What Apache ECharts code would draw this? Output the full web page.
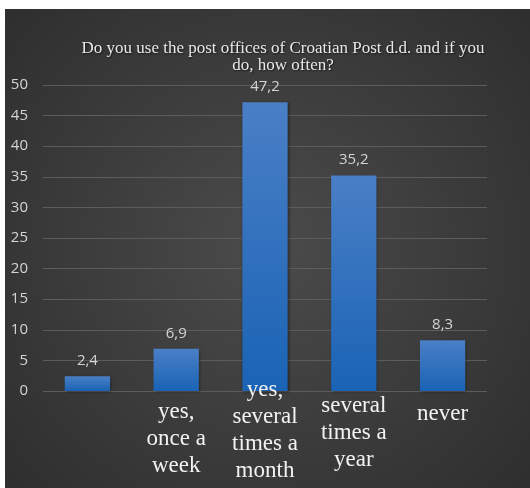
<!DOCTYPE html>
<html>
<head>
<meta charset="utf-8">
<script src="https://cdn.jsdelivr.net/npm/echarts@6/dist/echarts.min.js"></script>
<style>
  html, body { margin: 0; padding: 0; background: #ffffff; }
  #chart { position: absolute; left: 5px; top: 9px; width: 525px; height: 479px; }
</style>
</head>
<body>
<div id="chart"></div>
<script>
// Survey answers and their shares (%)
const categories = ['', 'yes,\nonce a\nweek', 'yes,\nseveral\ntimes a\nmonth', 'several\ntimes a\nyear', 'never'];
const shares = [2.4, 6.9, 47.2, 35.2, 8.3];
const yTicks = { min: 0, max: 50, interval: 5 };
const titleText = 'Do you use the post offices of Croatian Post d.d. and if you\ndo, how often?';

// per-label vertical nudges (px, negative = up)
const labelShift = [0, 0, -22, -6, 2];

const chart = echarts.init(document.getElementById('chart'), null, { renderer: 'canvas' });

chart.setOption({
  backgroundColor: {
    type: 'radial', x: 0.5, y: 0.5, r: 0.72,
    colorStops: [
      { offset: 0, color: '#4b4b4b' },
      { offset: 1, color: '#2f2f2f' }
    ]
  },
  title: {
    text: titleText,
    left: 273,
    top: 26,
    textAlign: 'center',
    textStyle: {
      fontFamily: 'Liberation Serif',
      fontSize: 17,
      fontWeight: 'normal',
      lineHeight: 17,
      color: '#e8e8e8',
      textShadowColor: 'rgba(0,0,0,0.6)',
      textShadowBlur: 2,
      textShadowOffsetX: 1,
      textShadowOffsetY: 1
    }
  },
  grid: { left: 38, right: 43, top: 76, bottom: 97, outerBoundsMode: 'none', containLabel: false },
  xAxis: {
    type: 'category',
    z: 5,
    data: categories.map((c, i) => ({
      value: c,
      textStyle: { padding: [labelShift[i], 0, 0, 0] }
    })),
    axisLine: { show: false },
    axisTick: { show: false },
    axisLabel: {
      interval: 0,
      margin: 7,
      verticalAlign: 'top',
      fontFamily: 'Liberation Serif',
      fontSize: 23,
      lineHeight: 27,
      color: '#f2f2f2'
    }
  },
  yAxis: {
    type: 'value',
    min: yTicks.min,
    max: yTicks.max,
    interval: yTicks.interval,
    axisLine: { show: false },
    axisTick: { show: false },
    splitLine: { lineStyle: { color: '#5c5c5c', width: 1 } },
    axisLabel: {
      margin: 15,
      fontFamily: 'Open Sans',
      fontSize: 15,
      color: '#d4d4d4'
    }
  },
  series: [{
    type: 'bar',
    data: shares,
    barWidth: '51%',
    itemStyle: {
      color: {
        type: 'linear', x: 0, y: 0, x2: 0, y2: 1,
        colorStops: [
          { offset: 0, color: '#4a7fc6' },
          { offset: 1, color: '#1a63b5' }
        ]
      },
      shadowColor: 'rgba(0,0,0,0.45)',
      shadowBlur: 3,
      shadowOffsetX: 1,
      shadowOffsetY: 1
    },
    label: {
      show: true,
      position: 'top',
      distance: 8,
      fontFamily: 'Open Sans',
      fontSize: 15,
      color: '#d4d4d4',
      formatter: p => String(p.value).replace('.', ',')
    }
  }]
});
</script>
</body>
</html>
